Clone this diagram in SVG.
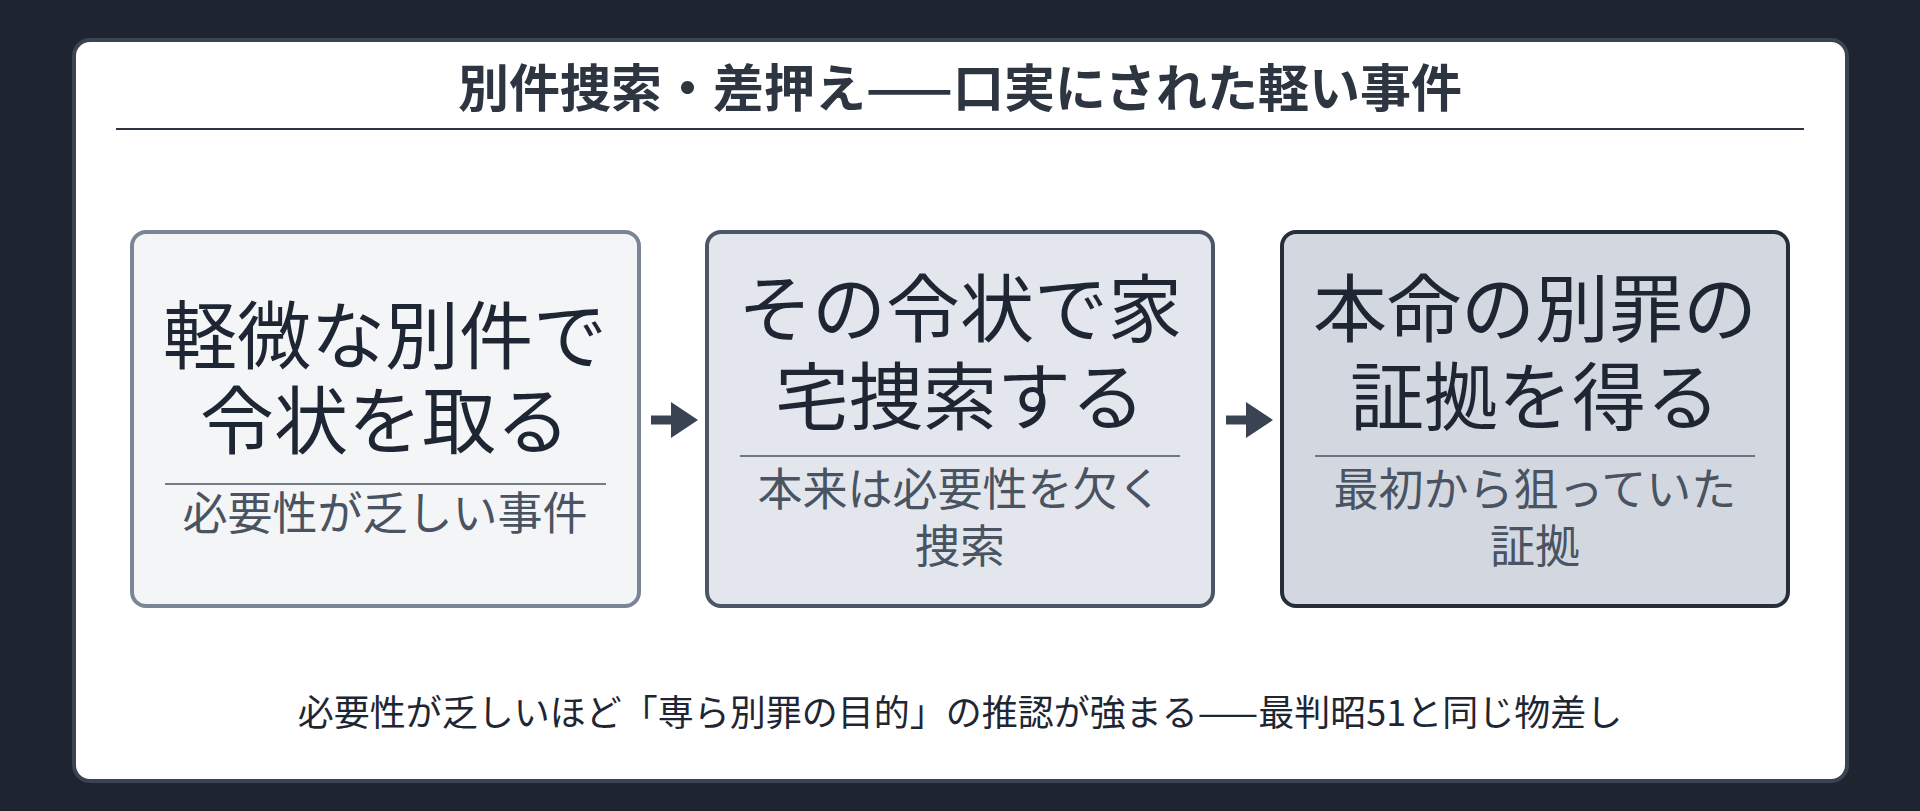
<svg xmlns="http://www.w3.org/2000/svg" width="1920" height="811" viewBox="0 0 1920 811">
<style>
text{font-family:"Noto Sans CJK JP","Noto Sans",sans-serif;text-anchor:middle}
.m{font-size:74px;fill:#1f2633}
.s{font-size:45px;fill:#4a5361}
.d{stroke:#4a5361;stroke-width:1.5}
</style>
<defs><marker id="ah" markerWidth="3" markerHeight="4" refX="1" refY="2" orient="auto" markerUnits="strokeWidth"><path d="M0,0L3,2L0,4Z" fill="#3a4352"/></marker></defs>
<rect width="1920" height="811" fill="#1e2530"/>
<rect x="74" y="40" width="1773" height="741" rx="16" fill="#fff" stroke="#3a4352" stroke-width="4"/>
<text x="960" y="107" style="font-size:51px;font-weight:bold;fill:#2d3540">別件捜索・差押え——口実にされた軽い事件</text>
<line x1="116" y1="129" x2="1804" y2="129" stroke="#2d3540" stroke-width="2"/>
<g id="n1"><rect x="132" y="232" width="507" height="374" rx="14" fill="#f3f5f7" stroke="#7b8595" stroke-width="4"/>
<text class="m" x="385" y="363">軽微な別件で</text><text class="m" x="385" y="448">令状を取る</text>
<line class="d" x1="165" y1="484" x2="606" y2="484"/><text class="s" x="385" y="530">必要性が乏しい事件</text></g>
<g id="n2"><rect x="707" y="232" width="506" height="374" rx="14" fill="#e3e7ed" stroke="#4c5667" stroke-width="4"/>
<text class="m" x="960" y="336">その令状で家</text><text class="m" x="960" y="424">宅捜索する</text>
<line class="d" x1="740" y1="456" x2="1180" y2="456"/><text class="s" x="960" y="506">本来は必要性を欠く</text><text class="s" x="960" y="563">捜索</text></g>
<g id="n3"><rect x="1282" y="232" width="506" height="374" rx="14" fill="#d3d8e0" stroke="#262e3a" stroke-width="4"/>
<text class="m" x="1535" y="336">本命の別罪の</text><text class="m" x="1535" y="424">証拠を得る</text>
<line class="d" x1="1315" y1="456" x2="1755" y2="456"/><text class="s" x="1535" y="506">最初から狙っていた</text><text class="s" x="1535" y="563">証拠</text></g>
<g id="connectors" stroke="#3a4352" stroke-width="9" fill="none">
<line x1="651" y1="420" x2="680" y2="420" marker-end="url(#ah)"/>
<line x1="1226" y1="420" x2="1255" y2="420" marker-end="url(#ah)"/>
</g>
<text x="960" y="726" style="font-size:36px;fill:#1f2633">必要性が乏しいほど「専ら別罪の目的」の推認が強まる——最判昭51と同じ物差し</text>
</svg>
